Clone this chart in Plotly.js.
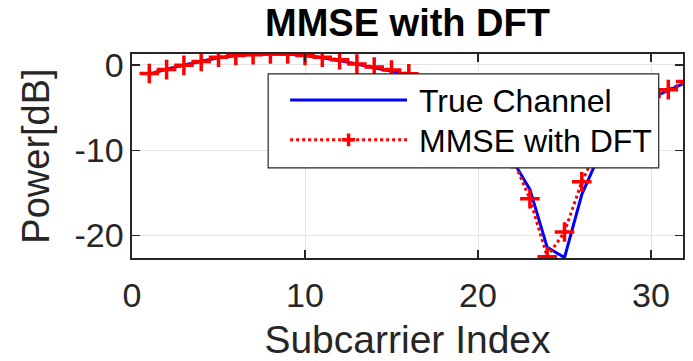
<!DOCTYPE html>
<html>
<head>
<meta charset="utf-8">
<script src="https://cdn.plot.ly/plotly-3.0.1.min.js"></script>
<style>html,body{margin:0;padding:0;background:#fff;}#chart{width:693px;height:361px;}</style>
</head>
<body>
<div id="chart"></div>
<script>
// Subcarrier indices
const subcarriers = [1,2,3,4,5,6,7,8,9,10,11,12,13,14,15,16,17,18,19,20,21,22,23,24,25,26,27,28,29,30,31,32];
// True channel power [dB]
const trueChannel = [-1.1,-0.5,0.0,0.45,0.85,1.1,1.25,1.28,1.25,1.1,0.85,0.5,0.05,-0.35,-0.75,-1.15,
  -2.3,-3.1,-4.2,-5.6,-7.8,-11.2,-14.6,-21.4,-22.6,-15.2,-10.6,-7.4,-5.3,-3.9,-3.0,-2.1];
// MMSE with DFT estimate [dB]
const mmseDft = [-1.0,-0.55,-0.05,0.4,0.9,1.1,1.2,1.3,1.3,1.1,0.9,0.6,0.1,-0.25,-0.6,-1.05,
  -2.4,-3.1,-4.3,-5.9,-8.0,-11.0,-15.7,-22.5,-19.6,-13.7,-9.5,-6.8,-4.9,-3.7,-2.9,-1.95];
// Tick labels
const xTickVals = [0,10,20,30];
const xTickText = ['0','10','20','30'];
const yTickVals = [-20,-10,0];
const yTickText = ['-20','-10','0'];
const seriesNames = ['True Channel','MMSE with DFT'];

const FONT = '"Liberation Sans", Arial, sans-serif';
const AX = '#262626';

const traces = [
  {x: subcarriers, y: trueChannel, name: seriesNames[0], type: 'scatter', mode: 'lines',
   line: {color: '#0000ff', width: 3}, showlegend: false, cliponaxis: true},
  {x: subcarriers, y: mmseDft, name: seriesNames[1], type: 'scatter', mode: 'lines+markers',
   line: {color: '#ff0000', width: 3, dash: 'dot'},
   marker: {symbol: 'cross-thin-open', size: 14, color: '#ff0000', line: {color: '#ff0000', width: 3.5}},
   showlegend: false, cliponaxis: true}
];

// plot area in px
const L = 131.7, R = 683.3, T = 54, B = 258.3;
const W = R - L, H = B - T;
const px = v => (v - L) / W;
const py = v => (B - v) / H;

const lx0 = 290, lx1 = 407, ly1 = 100, ly2 = 140, pcx = 348.5, ph = 6.5;

const layout = {
  width: 693, height: 361,
  margin: {l: L, r: 693 - R, t: T, b: 361 - B, pad: 0},
  paper_bgcolor: '#ffffff', plot_bgcolor: '#ffffff',
  font: {family: FONT, color: AX},
  title: {text: '<b>MMSE with DFT</b>', font: {family: FONT, size: 38, color: '#000000'},
          x: 0.5, xref: 'paper', xanchor: 'center', y: 1 - 23/361, yref: 'container', yanchor: 'middle'},
  xaxis: {range: [0, 31.85], tickvals: xTickVals, ticktext: xTickText, ticks: 'inside', ticklen: 8, tickwidth: 1.3,
          tickcolor: AX, showline: true, linecolor: AX, linewidth: 1.6, mirror: 'ticks',
          showgrid: true, gridcolor: '#e3e3e3', gridwidth: 1, zeroline: false, ticklabelstandoff: 7,
          tickfont: {family: FONT, size: 34, color: AX},
          title: {text: 'Subcarrier Index', font: {family: FONT, size: 39, color: AX}, standoff: 15}},
  yaxis: {range: [-22.65, 1.28], tickvals: yTickVals, ticktext: yTickText, ticks: 'inside', ticklen: 8, tickwidth: 1.3,
          tickcolor: AX, showline: true, linecolor: AX, linewidth: 1.6, mirror: 'ticks',
          showgrid: true, gridcolor: '#e3e3e3', gridwidth: 1, zeroline: false,
          tickfont: {family: FONT, size: 34, color: AX},
          title: {text: 'Power[dB]', font: {family: FONT, size: 38, color: AX}, standoff: 13}},
  shapes: [
    {type: 'rect', xref: 'paper', yref: 'paper', x0: px(268), x1: px(659), y0: py(168), y1: py(74),
     fillcolor: '#ffffff', line: {color: AX, width: 1.2}, layer: 'above'},
    {type: 'line', xref: 'paper', yref: 'paper', x0: px(lx0), x1: px(lx1), y0: py(ly1), y1: py(ly1),
     line: {color: '#0000ff', width: 3}, layer: 'above'},
    {type: 'line', xref: 'paper', yref: 'paper', x0: px(lx0), x1: px(lx1), y0: py(ly2), y1: py(ly2),
     line: {color: '#ff0000', width: 3, dash: 'dot'}, layer: 'above'},
    {type: 'path', xref: 'paper', yref: 'paper',
     path: `M${px(pcx-ph)},${py(ly2)} L${px(pcx+ph)},${py(ly2)} M${px(pcx)},${py(ly2-ph)} L${px(pcx)},${py(ly2+ph)}`,
     line: {color: '#ff0000', width: 3.5}, layer: 'above'}
  ],
  annotations: [
    {text: seriesNames[0], xref: 'paper', yref: 'paper', x: px(417), y: py(101.5), xanchor: 'left', yanchor: 'middle',
     showarrow: false, font: {family: FONT, size: 32, color: '#000000'}},
    {text: seriesNames[1], xref: 'paper', yref: 'paper', x: px(417), y: py(141.5), xanchor: 'left', yanchor: 'middle',
     showarrow: false, font: {family: FONT, size: 32, color: '#000000'}}
  ]
};

Plotly.newPlot('chart', traces, layout, {displayModeBar: false, staticPlot: true});
</script>
</body>
</html>
